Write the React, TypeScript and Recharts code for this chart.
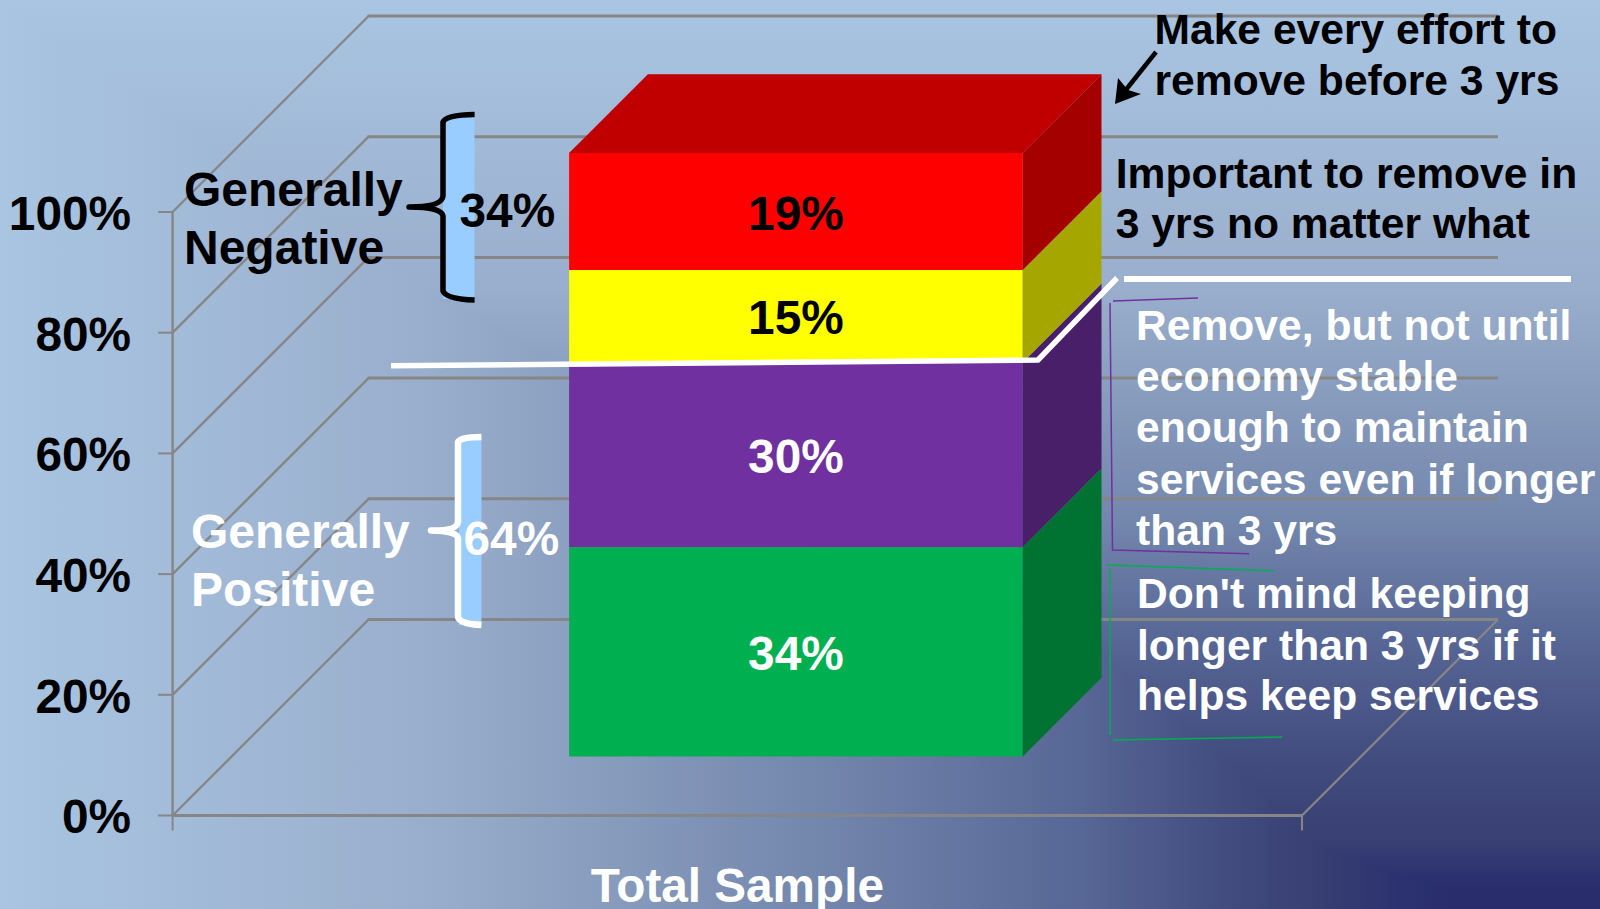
import { Bar, BarChart, CartesianGrid, XAxis, YAxis } from "recharts";

const FONT = '"Liberation Sans", Arial, sans-serif';
const GRID = "#868686";

const categories = ["Total Sample"];
const seriesKeys = ["keep", "notUntilStable", "removeIn3", "removeBefore3"];
const seriesValues = [34, 30, 15, 19];
const frontColors = ["#00B050", "#7030A0", "#FFFF00", "#FF0000"];
const sideColors = ["#007332", "#481F68", "#A6A600", "#A50000"];
const labelColors = ["#FFFFFF", "#FFFFFF", "#000000", "#000000"];
const topColor = "#C00000";
const yTicks = [0, 0.2, 0.4, 0.6, 0.8, 1];

const data = categories.map((name) => {
  const row: Record<string, string | number> = { name };
  seriesKeys.forEach((k, i) => (row[k] = seriesValues[i]));
  return row;
});

// 3d look: wall depth and where the box sits inside it
const WALL = 196;
const BOX_DX = 58.5;
const BOX_DY = 59;
const BOX_DEPTH = 78.8;

// background is a corner gradient: same colour ring at each (x, y) pair
const bgColors = ["#292D6B", "#2C326F", "#394073", "#434D80", "#576796", "#7386AC", "#99AECC", "#A9C5E2"];
const bgX = [1450, 1400, 1310, 1220, 1080, 820, 430, 0];
const bgY = [890, 875, 840, 754, 638, 522, 290, 0];
const seam = bgX.map((x, i) => `${x},${bgY[i]}`).join(" ");

const WallLine = (props: any) => {
  const { x1, x2, y1, index } = props;
  const isFloor = Math.abs(y1 - 815.5) < 1;
  return (
    <g key={index}>
      <line x1={x1 - 14.5} y1={y1} x2={x1} y2={y1} stroke={GRID} strokeWidth={2} />
      <line x1={x1} y1={y1} x2={x1 + WALL} y2={y1 - WALL} stroke={GRID} strokeWidth={2.4} />
      <line x1={x1 + WALL - 1} y1={y1 - WALL} x2={x2 + WALL} y2={y1 - WALL} stroke={GRID} strokeWidth={3} />
      {isFloor && (
        <>
          <line x1={x2} y1={y1} x2={x2 + WALL} y2={y1 - WALL} stroke={GRID} strokeWidth={2.2} />
          <line x1={x1} y1={y1} x2={x1} y2={y1 + 15} stroke={GRID} strokeWidth={2} />
          <line x1={x2} y1={y1} x2={x2} y2={y1 + 15} stroke={GRID} strokeWidth={2} />
        </>
      )}
    </g>
  );
};

const makeBox = (i: number) => (props: any) => {
  const { x, y, width, height } = props;
  const l = x + BOX_DX;
  const r = l + width;
  const t = y - BOX_DY;
  const b = t + height;
  const d = BOX_DEPTH;
  return (
    <g>
      <rect x={l} y={t} width={width} height={height} fill={frontColors[i]} />
      <polygon points={`${r},${t} ${r + d},${t - d} ${r + d},${b - d} ${r},${b}`} fill={sideColors[i]} />
      {i === seriesKeys.length - 1 && (
        <polygon points={`${l},${t} ${l + d},${t - d} ${r + d},${t - d} ${r},${t}`} fill={topColor} />
      )}
      <text
        x={l + width / 2}
        y={t + height / 2 + 18}
        textAnchor="middle"
        fontFamily={FONT}
        fontWeight={700}
        fontSize={47.8}
        fill={labelColors[i]}
      >
        {seriesValues[i]}%
      </text>
    </g>
  );
};

const notes = [
  { text: "Make every effort to", x: 1154.5, y: 44, fill: "#000", size: 42.6 },
  { text: "remove before 3 yrs", x: 1154.5, y: 95, fill: "#000", size: 42.6 },
  { text: "Important to remove in", x: 1115.7, y: 187.5, fill: "#000", size: 42.6 },
  { text: "3 yrs no matter what", x: 1115.7, y: 238, fill: "#000", size: 42.6 },
  { text: "Remove, but not until", x: 1136, y: 340, fill: "#fff", size: 42.6 },
  { text: "economy stable", x: 1136, y: 391, fill: "#fff", size: 42.6 },
  { text: "enough to maintain", x: 1136, y: 442, fill: "#fff", size: 42.6 },
  { text: "services even if longer", x: 1136, y: 493.5, fill: "#fff", size: 42.6 },
  { text: "than 3 yrs", x: 1136, y: 545, fill: "#fff", size: 42.6 },
  { text: "Don't mind keeping", x: 1137, y: 608, fill: "#fff", size: 42.6 },
  { text: "longer than 3 yrs if it", x: 1137, y: 659.5, fill: "#fff", size: 42.6 },
  { text: "helps keep services", x: 1137, y: 710, fill: "#fff", size: 42.6 },
  { text: "Generally", x: 184, y: 206, fill: "#000", size: 48 },
  { text: "Negative", x: 184, y: 263.5, fill: "#000", size: 48 },
  { text: "Generally", x: 191, y: 548, fill: "#fff", size: 48 },
  { text: "Positive", x: 191, y: 605.5, fill: "#fff", size: 48 },
];

const Overlay = () => (
  <svg width={1600} height={909} style={{ position: "absolute", left: 0, top: 0 }}>
    {/* braces */}
    <rect x={443} y={116} width={31.5} height={183} fill="#99CCFF" />
    <path
      d="M474.6 114.5 Q446 115 443 122 L443 196 Q442 207 409 207 Q442 207 443 216 L443 291 Q446 299 474.6 300"
      fill="none"
      stroke="#000"
      strokeWidth={5.5}
      strokeLinecap="butt"
      strokeLinejoin="round"
    />
    <rect x={459} y={437} width={22.5} height={188} fill="#99CCFF" />
    <path
      d="M481.4 437 Q460 437 458 442 L458 522 Q457 531 431 530.5 Q457 531 458 538 L458 617 Q460 624 481.4 625"
      fill="none"
      stroke="#fff"
      strokeWidth={6.5}
      strokeLinecap="butt"
      strokeLinejoin="round"
    />

    {/* dividing line between negative and positive */}
    <polyline points="391,365.7 1038,360 1117,278" fill="none" stroke="#fff" strokeWidth={5.5} />
    <line x1={1124} y1={279} x2={1571} y2={279} stroke="#fff" strokeWidth={6} />

    {/* arrow */}
    <line x1={1156} y1={52} x2={1121} y2={96} stroke="#000" strokeWidth={4.5} />
    <polygon points="1115,104 1118,78 1128,90 1141,94" fill="#000" />

    {/* thin brackets */}
    <polyline points="1198,298 1113,301" fill="none" stroke="#7030A0" strokeWidth={1.5} />
    <polyline points="1110,303 1112.5,550 1249,553.7" fill="none" stroke="#7030A0" strokeWidth={1.5} />
    <polyline points="1107,565 1273.6,570.7" fill="none" stroke="#00B050" strokeWidth={1.5} />
    <line x1={1110} y1={568} x2={1110} y2={735} stroke="#00B050" strokeWidth={1.5} />
    <line x1={1113} y1={740} x2={1282} y2={737} stroke="#00B050" strokeWidth={1.5} />

    {notes.map((n, i) => (
      <text key={i} x={n.x} y={n.y} fontFamily={FONT} fontWeight={700} fontSize={n.size} fill={n.fill}>
        {n.text}
      </text>
    ))}
    <text x={459.5} y={226.7} fontFamily={FONT} fontWeight={700} fontSize={47.8} fill="#000">34%</text>
    <text x={463.5} y={554.5} fontFamily={FONT} fontWeight={700} fontSize={47.8} fill="#fff">64%</text>
  </svg>
);

const Background = () => (
  <svg width={1600} height={909} style={{ position: "absolute", left: 0, top: 0 }}>
    <defs>
      <linearGradient id="bgV" gradientUnits="userSpaceOnUse" x1="0" y1={bgY[0]} x2="0" y2="0">
        {bgColors.map((c, i) => (
          <stop key={c} offset={(bgY[0] - bgY[i]) / bgY[0]} stopColor={c} />
        ))}
      </linearGradient>
      <linearGradient id="bgH" gradientUnits="userSpaceOnUse" x1={bgX[0]} y1="0" x2="0" y2="0">
        {bgColors.map((c, i) => (
          <stop key={c} offset={(bgX[0] - bgX[i]) / bgX[0]} stopColor={c} />
        ))}
      </linearGradient>
    </defs>
    <rect width={1600} height={909} fill="url(#bgV)" />
    <polygon points={`${seam} 0,909 1600,909 1450,890`} fill="url(#bgH)" />
  </svg>
);

const App = () => {
  return (
    <div style={{ position: "absolute", left: 0, top: 0, width: 1600, height: 909, overflow: "hidden" }}>
      <Background />
      <div style={{ position: "absolute", left: 0, top: 0 }}>
        <BarChart
          width={1600}
          height={909}
          data={data}
          stackOffset="expand"
          margin={{ top: 212, right: 298, bottom: 0, left: 0 }}
        >
          <CartesianGrid horizontal={WallLine} vertical={false} />
          <XAxis
            dataKey="name"
            height={93.5}
            axisLine={{ stroke: GRID, strokeWidth: 3 }}
            tickLine={false}
            tickSize={0}
            tickMargin={53}
            tick={{ fill: "#fff", fontSize: 47.7, fontWeight: 700, fontFamily: FONT }}
          />
          <YAxis
            width={172.6}
            domain={[0, 1]}
            ticks={yTicks}
            axisLine={{ stroke: GRID, strokeWidth: 2.4 }}
            tickLine={false}
            tickSize={14.5}
            tickMargin={27}
            tickFormatter={(v: number) => `${Math.round(v * 100)}%`}
            tick={{ fill: "#000", fontSize: 47.8, fontWeight: 700, fontFamily: FONT, dy: 1 }}
          />
          {seriesKeys.map((k, i) => (
            <Bar key={k} dataKey={k} stackId="a" barSize={453.6} isAnimationActive={false} shape={makeBox(i)} />
          ))}
        </BarChart>
      </div>
      <Overlay />
    </div>
  );
};

export default App;
